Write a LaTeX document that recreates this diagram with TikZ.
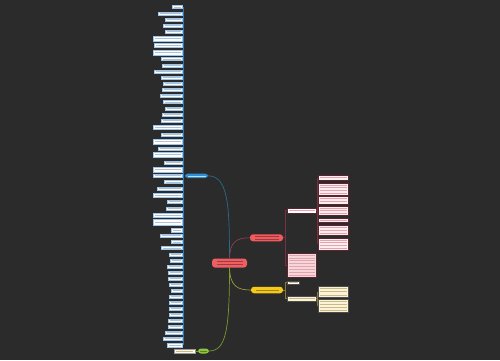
\documentclass[tikz,border=0pt]{standalone}
\usetikzlibrary{calc}
\definecolor{bg}{HTML}{2B2B2B}
\definecolor{bluen}{HTML}{2F8FD0}
\definecolor{bluel}{HTML}{2A78B5}
\definecolor{bluecon}{HTML}{2B6A8F}
\definecolor{lbord}{HTML}{9CC4E8}
\definecolor{ltxt}{HTML}{B4C0CE}
\definecolor{rootc}{HTML}{EE5E63}
\definecolor{redb}{HTML}{F05A5F}
\definecolor{redcon}{HTML}{8A4050}
\definecolor{redl}{HTML}{7A3040}
\definecolor{pinkf}{HTML}{FDEDEF}
\definecolor{pinkbig}{HTML}{F7D6DA}
\definecolor{pinkbord}{HTML}{5A2530}
\definecolor{ptxt}{HTML}{E2A4AE}
\definecolor{yelb}{HTML}{F6C918}
\definecolor{yelcon}{HTML}{A09A38}
\definecolor{yell}{HTML}{8A7A30}
\definecolor{creamf}{HTML}{FBF3D6}
\definecolor{ytxt}{HTML}{C8B88A}
\definecolor{greenb}{HTML}{8CC63F}
\definecolor{greencon}{HTML}{7A9A30}
\newcommand\txtbars[5]{%
  \pgfmathsetmacro\nl{max(1,int((#4-#3-1)/2.6))}%
  \pgfmathsetmacro\hh{(#4-#3-1)/\nl}%
  \foreach \k in {1,...,\nl}{%
    \pgfmathsetmacro\yy{#3+0.5+(\k-0.5)*\hh}%
    \fill[#5] (#1+1.5,\yy-0.3) rectangle (#2-1.5,\yy+0.3);
  }%
}
\tikzset{
  lbox/.style={draw=lbord,fill=white,line width=0.3pt,inner sep=0pt,outer sep=0pt},
  pbox/.style={draw=pinkbord,fill=pinkf,line width=0.5pt,inner sep=0pt,outer sep=0pt},
  ybox/.style={draw=black!70,fill=creamf,line width=0.5pt,inner sep=0pt,outer sep=0pt},
  topic/.style={rounded corners=3pt,inner sep=0pt,outer sep=0pt},
  con/.style={line width=0.7pt}
}
\begin{document}
\begin{tikzpicture}[x=1pt,y=-1pt]
\fill[bg] (0,0) rectangle (500,360);
\useasboundingbox (0,0) rectangle (500,360);

% left column boxes
\foreach \l/\t/\b [count=\i] in {172/5.5/8.5, 158/12/15, 165/18/21, 163/24/27, 165/30/33, 153/36/41, 154/43/47, 153/50/55, 161/57.5/60.5, 162/64/67, 154/70/73.5, 161/76/79, 163/82/85, 162/88/91, 160/94/97, 163/100.5/103.5, 165/107/110, 162/113/116, 161/119/122, 153/125/129, 161/133/136, 153/139/144, 158/147/150, 153/152/157, 164/161/164, 153/167/172, 153/174/177, 164/180.5/183.5, 157/187/190, 153/193/197, 167/200/203, 166/207/210, 153/213/217, 153/219/225, 171/228/232, 160/234/237, 171/240.5/243.5, 161/246.5/249.5, 169/253/256, 170/259/262, 167/265/268, 168/271/274, 168/277/280, 169/283/286, 171/289/292, 169/295/298, 169/301/304, 169/307/310, 169/313/316, 168/319/322, 168/325/328, 165/331/334, 163/337/340, 167/343/347}{
  \node[lbox,minimum width={182-\l},minimum height={\b-\t}] (L\i) at ({(182+\l)/2},{(\t+\b)/2}) {};
  \txtbars{\l}{182}{\t}{\b}{ltxt}
}
\draw[bluel,line width=1pt] ([xshift=1pt]L1.east) -- ([xshift=1pt]L54.east);

% root and main topics
\node[topic,fill=rootc,minimum width=35pt,minimum height=9pt] (root) at (229.5,263) {};
\txtbars{215}{244}{259}{267}{black!35!rootc}
\node[topic,fill=bluen,minimum width=23pt,minimum height=4.5pt] (blue) at (196.5,175.8) {};
\fill[white!70!bluen] (188,175.5) rectangle (206,176.1);
\node[topic,fill=redb,minimum width=33pt,minimum height=7pt] (red) at (266.5,237.8) {};
\txtbars{253}{280}{234.5}{241}{black!35!redb}
\node[topic,fill=yelb,minimum width=32pt,minimum height=6.5pt] (yel) at (267,290) {};
\txtbars{254}{280}{287}{293}{black!35!yelb}
\node[topic,fill=greenb,minimum width=11pt,minimum height=5pt] (grn) at (203.5,351) {};
\fill[black!35!greenb] (200,350.7) rectangle (207,351.3);

% main connectors
\draw[con,bluecon] (blue.east) .. controls (228,176) and (229.5,205) .. (229.5,258.5);
\draw[con,redcon] (229.5,258.5) .. controls (230,242) and (236,237.8) .. (red.west);
\draw[con,yelcon] (229.5,267.5) .. controls (230,286) and (237,290) .. (yel.west);
\draw[con,greencon] (229.5,267.5) .. controls (229.5,330) and (226,351) .. (grn.east);

% green child
\node[lbox,draw=black!40,fill=creamf!60!white,minimum width=21pt,minimum height=4pt] (G1) at (184.5,351) {};
\fill[ytxt] (176,350.7) rectangle (193,351.3);
\draw[greencon,line width=0.6pt] (G1.east) -- (grn.west);

% red branch children
\node[pbox,fill=white,minimum width=29pt,minimum height=5pt] (P1) at (301.5,210.5) {};
\txtbars{287}{316}{208}{213}{ptxt}
\node[pbox,fill=pinkbig,minimum width=29pt,minimum height=24pt] (P2) at (301.5,265) {};
\txtbars{287}{316}{253}{277}{ptxt}
\coordinate (rf) at (285,237.8);
\draw[redl,line width=0.8pt] (red.east) -- (rf);
\draw[redl,line width=0.8pt] (P1.west -| rf) -- (P2.west -| rf);
\draw[redl,line width=0.6pt] (P1.west -| rf) -- (P1.west);
\draw[redl,line width=0.6pt] (P2.west -| rf) -- (P2.west);

\foreach \t/\b [count=\i] in {175/180, 183/195, 196/204, 206/215, 218/222.5, 225/235, 238/250}{
  \node[pbox,minimum width=30pt,minimum height={\b-\t}] (Q\i) at (333,{(\t+\b)/2}) {};
  \txtbars{318}{348}{\t}{\b}{ptxt}
}
\coordinate (qf) at (317,210.5);
\draw[redl,line width=0.8pt] (P1.east) -- (qf);
\draw[redl,line width=0.8pt] (Q1.west -| qf) -- (Q7.west -| qf);

% yellow branch children
\node[ybox,fill=white,minimum width=12pt,minimum height=3pt] (Y1) at (293,282.5) {};
\fill[ytxt] (288.5,282.2) rectangle (297.5,282.8);
\node[ybox,minimum width=29pt,minimum height=5pt] (Y2) at (301.5,298.5) {};
\txtbars{287}{316}{296}{301}{ytxt}
\coordinate (yf) at (285,290);
\draw[yell,line width=0.8pt] (yel.east) -- (yf);
\draw[yell,line width=0.8pt] (Y1.west -| yf) -- (Y2.west -| yf);
\draw[yell,line width=0.6pt] (Y1.west -| yf) -- (Y1.west);
\draw[yell,line width=0.6pt] (Y2.west -| yf) -- (Y2.west);
\node[ybox,minimum width=30pt,minimum height=11pt] (Y3) at (333,291.5) {};
\txtbars{318}{348}{286}{297}{ytxt}
\node[ybox,minimum width=30pt,minimum height=13pt] (Y4) at (333,305.5) {};
\txtbars{318}{348}{299}{312}{ytxt}
\coordinate (zf) at (317,298.5);
\draw[yell,line width=0.8pt] (Y2.east) -- (zf);
\draw[yell,line width=0.8pt] (Y3.west -| zf) -- (Y4.west -| zf);
\end{tikzpicture}
\end{document}
